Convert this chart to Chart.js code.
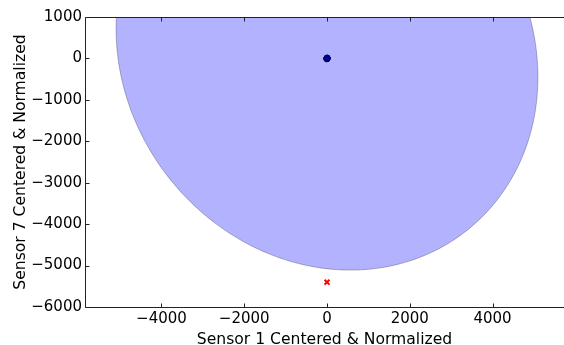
<!DOCTYPE html>
<html>
<head>
<meta charset="utf-8">
<script src="https://cdn.jsdelivr.net/npm/chart.js@4/dist/chart.umd.min.js"></script>
<style>
  html, body { margin: 0; padding: 0; background: #fff; }
  #wrap { width: 564px; height: 345px; }
</style>
</head>
<body>
<div id="wrap"><canvas id="c" width="564" height="345"></canvas></div>
<script>
// ---- data ----
const blueX = [0, 5, -5, 3, -3, 0];
const blueY = [0, 10, -10, -5, 5, 0];
const redX = [0];
const redY = [-5400];
const xTicks = [-4000, -2000, 0, 2000, 4000];
const yTicks = [1000, 0, -1000, -2000, -3000, -4000, -5000, -6000];
const xRange = [-5848, 5727];
const yRange = [-6000, 1000];
// ellipse (data units)
const ellipseCenter = [0, 130];
const ellipseSemiAxes = [5456, 4865];
const ellipseAngleDeg = -52;
const xTitle = 'Sensor 1 Centered & Normalized';
const yTitle = 'Sensor 7 Centered & Normalized';

const FONT = "'DejaVu Sans', sans-serif";
const fmt = v => (v < 0 ? '\u2212' + Math.abs(v) : String(v));

const ellipsePlugin = {
  id: 'ellipse',
  beforeDatasetsDraw(chart) {
    const { ctx, chartArea: a, scales: { x, y } } = chart;
    ctx.save();
    ctx.beginPath();
    ctx.rect(a.left, a.top, a.right - a.left, a.bottom - a.top);
    ctx.clip();
    const th = ellipseAngleDeg * Math.PI / 180;
    ctx.beginPath();
    const N = 360;
    for (let i = 0; i <= N; i++) {
      const t = i / N * 2 * Math.PI;
      const ex = ellipseSemiAxes[0] * Math.cos(t), ey = ellipseSemiAxes[1] * Math.sin(t);
      const dx = ellipseCenter[0] + ex * Math.cos(th) - ey * Math.sin(th);
      const dy = ellipseCenter[1] + ex * Math.sin(th) + ey * Math.cos(th);
      const px = x.getPixelForValue(dx), py = y.getPixelForValue(dy);
      if (i === 0) ctx.moveTo(px, py); else ctx.lineTo(px, py);
    }
    ctx.closePath();
    ctx.fillStyle = 'rgb(178,178,255)';
    ctx.fill();
    ctx.strokeStyle = 'rgba(0,0,0,0.25)';
    ctx.lineWidth = 1;
    ctx.stroke();
    ctx.restore();
  }
};

const framePlugin = {
  id: 'frame',
  afterDatasetsDraw(chart) {
    const { ctx, chartArea: a, scales: { x, y } } = chart;
    ctx.save();
    ctx.strokeStyle = '#222';
    ctx.lineWidth = 1;
    ctx.beginPath();
    const L = Math.round(a.left) + 0.5, T = Math.round(a.top) + 0.5, B = Math.round(a.bottom) + 0.5;
    ctx.moveTo(a.right, T); ctx.lineTo(L, T); ctx.lineTo(L, B); ctx.lineTo(a.right, B);
    ctx.stroke();
    ctx.beginPath();
    xTicks.forEach(v => {
      const px = Math.round(x.getPixelForValue(v)) + 0.5;
      ctx.moveTo(px, B); ctx.lineTo(px, B - 4);
      ctx.moveTo(px, T); ctx.lineTo(px, T + 4);
    });
    yTicks.forEach(v => {
      const py = Math.round(y.getPixelForValue(v)) + 0.5;
      ctx.moveTo(L, py); ctx.lineTo(L + 4, py);
    });
    ctx.stroke();
    ctx.restore();
  }
};

new Chart(document.getElementById('c'), {
  type: 'scatter',
  data: {
    datasets: [
      {
        data: blueX.map((v, i) => ({ x: v, y: blueY[i] })),
        pointStyle: 'circle',
        pointRadius: 3,
        backgroundColor: '#0000b0',
        borderColor: '#000040',
        borderWidth: 1
      },
      {
        data: redX.map((v, i) => ({ x: v, y: redY[i] })),
        pointStyle: 'crossRot',
        pointRadius: 3.5,
        borderColor: '#ff0000',
        borderWidth: 2
      }
    ]
  },
  options: {
    responsive: false,
    animation: false,
    events: [],
    layout: { autoPadding: false, padding: { top: 17, left: 0, right: 0, bottom: 0 } },
    plugins: { legend: { display: false }, tooltip: { enabled: false } },
    scales: {
      x: {
        type: 'linear',
        min: xRange[0], max: xRange[1],
        border: { display: false },
        grid: { display: false, drawTicks: false },
        afterBuildTicks: s => { s.ticks = xTicks.map(v => ({ value: v })); },
        afterFit: s => { s.height = 38; s.paddingLeft = 0; s.paddingRight = 0; },
        ticks: {
          color: '#000', font: { family: FONT, size: 15 }, padding: 3,
          maxRotation: 0, autoSkip: false,
          callback: v => fmt(v)
        },
        title: {
          display: true, text: xTitle, color: '#000',
          font: { family: FONT, size: 15.6 }, padding: { top: 0, bottom: -4 }
        }
      },
      y: {
        type: 'linear',
        min: yRange[0], max: yRange[1],
        border: { display: false },
        grid: { display: false, drawTicks: false },
        afterBuildTicks: s => { s.ticks = yTicks.map(v => ({ value: v })); },
        afterFit: s => { s.width = 85; s.paddingTop = 0; s.paddingBottom = 0; },
        ticks: {
          color: '#000', font: { family: FONT, size: 15 }, padding: 3,
          autoSkip: false,
          callback: v => fmt(v)
        },
        title: {
          display: true, text: yTitle, color: '#000',
          font: { family: FONT, size: 15.6 }, padding: { top: 12, bottom: 0 }
        }
      }
    }
  },
  plugins: [ellipsePlugin, framePlugin]
});
</script>
</body>
</html>
